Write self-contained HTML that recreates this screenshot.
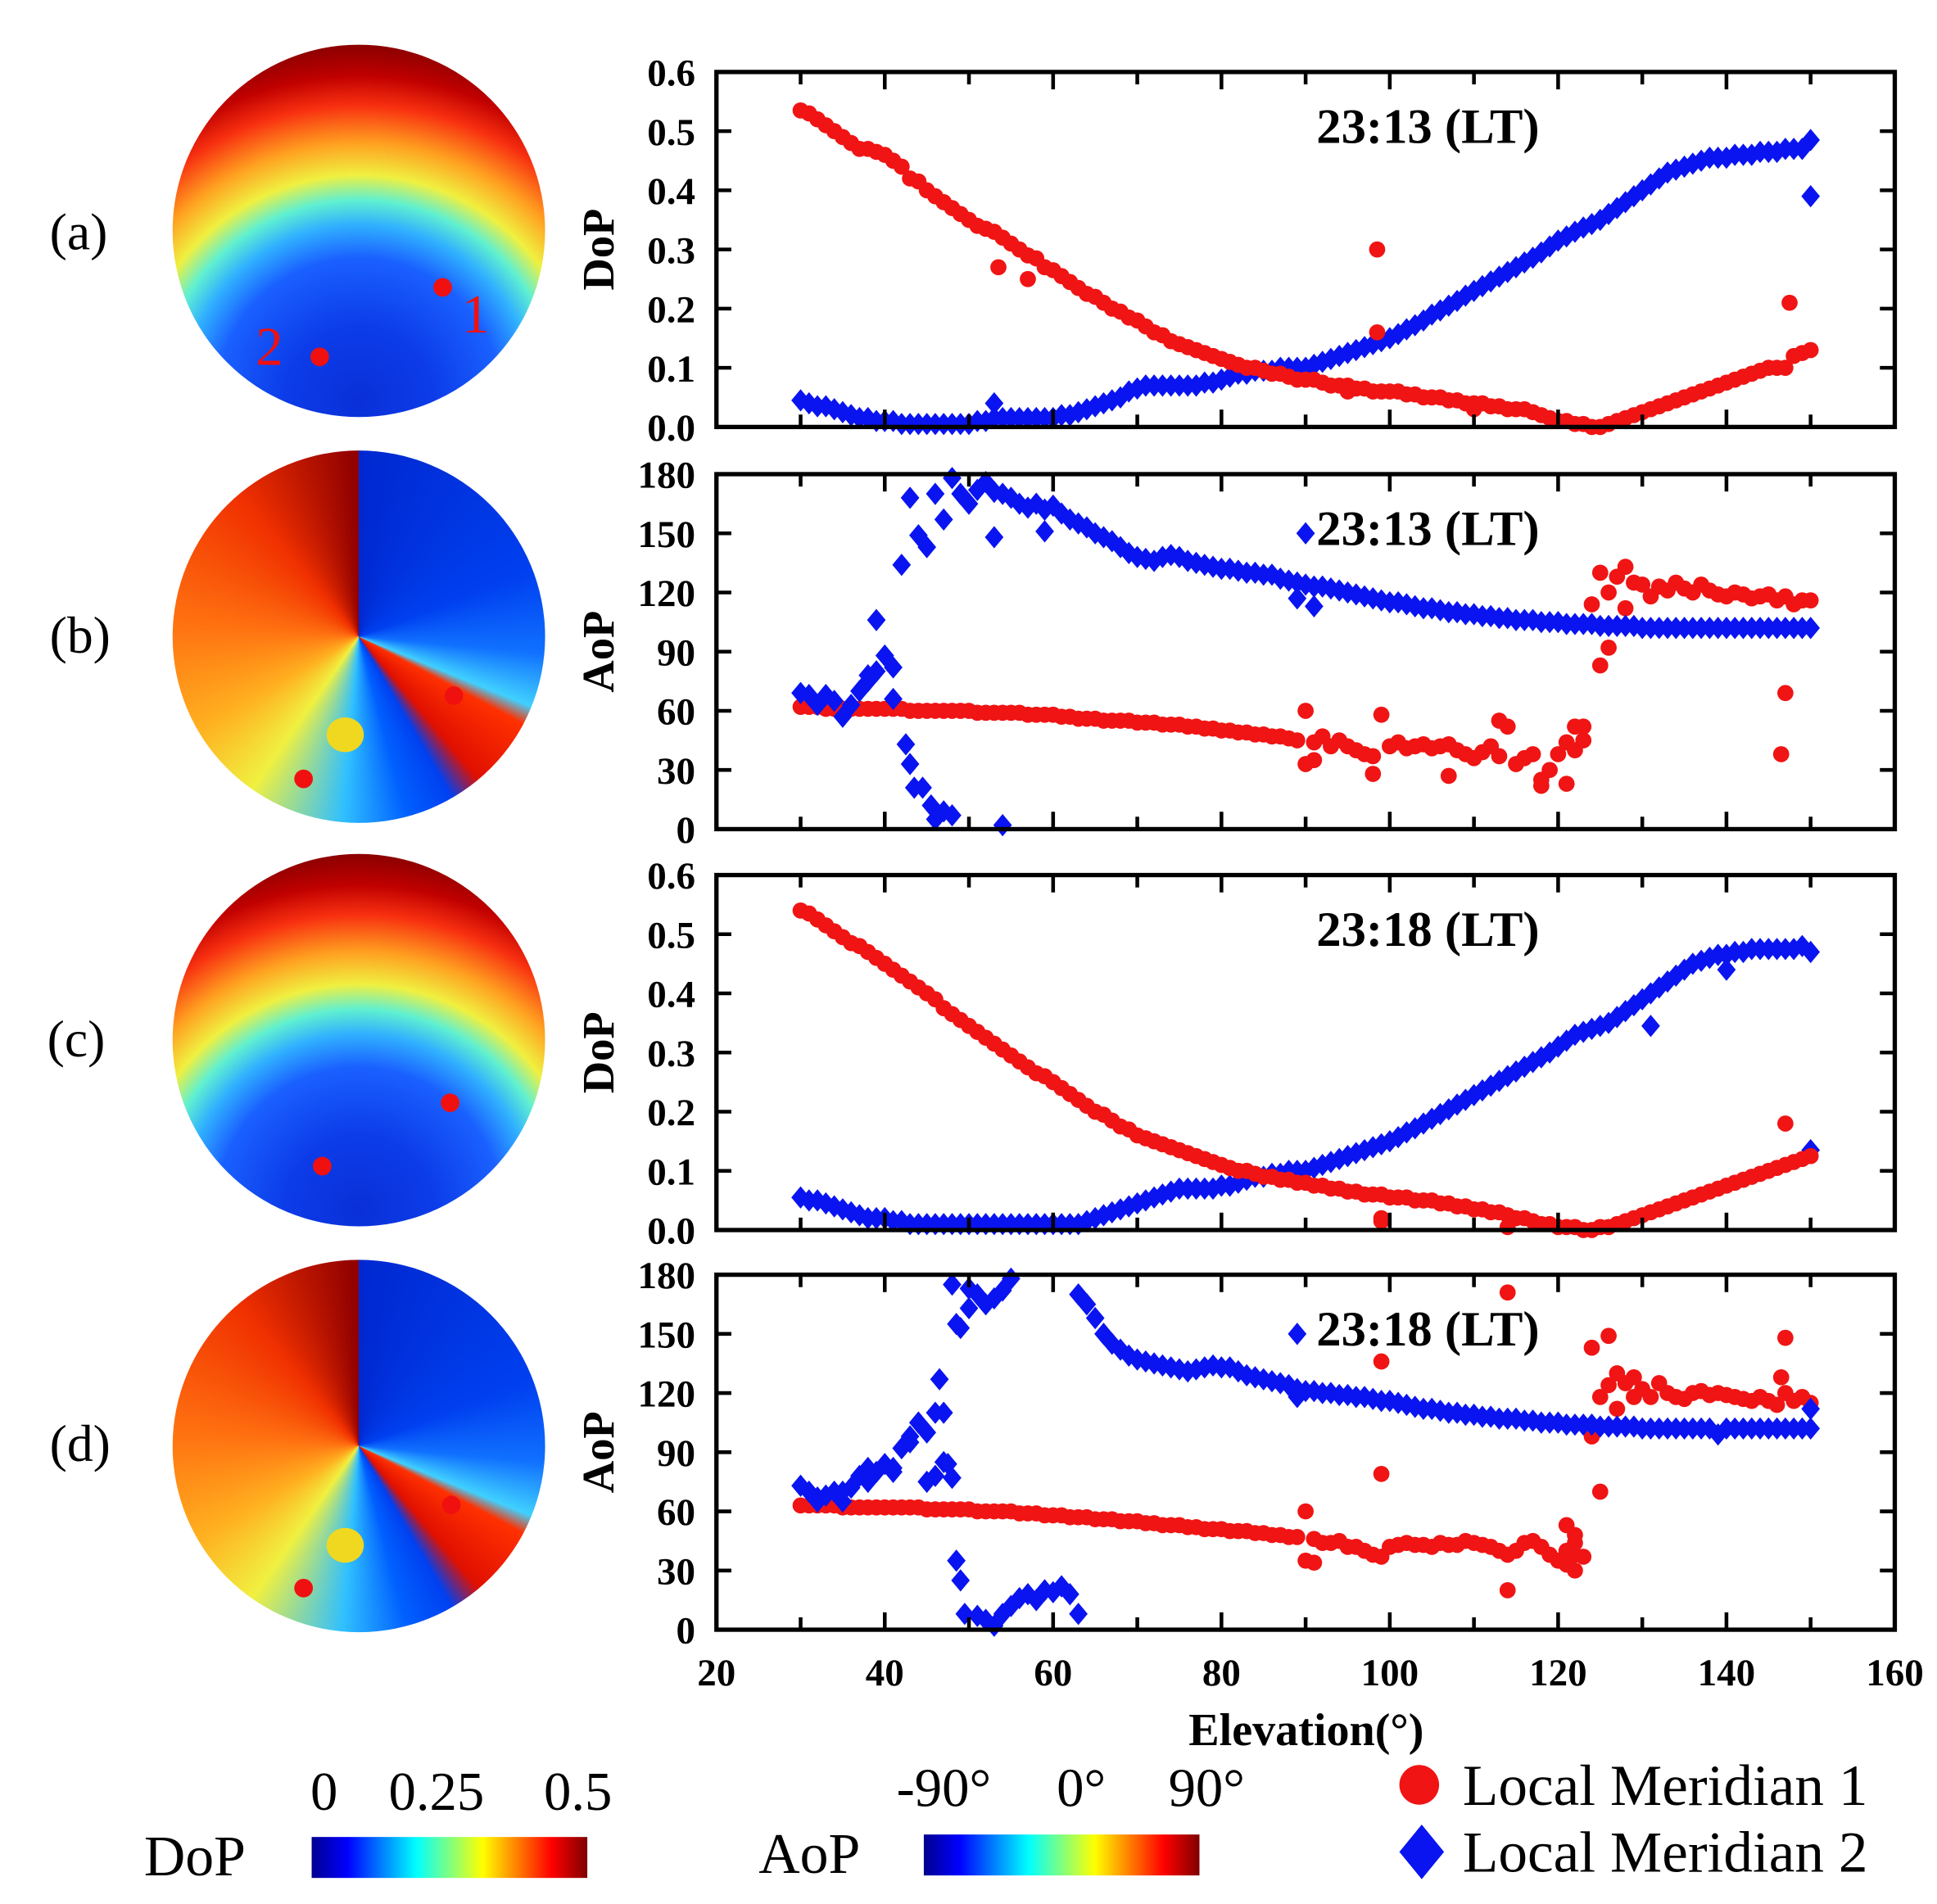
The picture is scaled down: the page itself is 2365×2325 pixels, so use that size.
<!DOCTYPE html>
<html><head><meta charset="utf-8">
<style>
html,body{margin:0;padding:0;background:#fff;}
#wrap{position:absolute;left:0;top:0;width:1560px;height:1534px;transform:scale(1.51603,1.51565);transform-origin:0 0;overflow:hidden;font-family:"Liberation Serif",serif;}
.sky{position:absolute;width:300px;height:300px;border-radius:50%;}
.dop{background:radial-gradient(circle at 150px 287px,#0a30d8 0px,#0c3ce8 60px,#1a60ff 115px,#30b0ff 142px,#60f0d0 162px,#f0f040 182px,#ffa020 208px,#f83010 238px,#c00000 262px,#800000 292px);}
.aop{background:conic-gradient(from 0deg,#0028d0 0deg,#0040f0 70deg,#1070ff 95deg,#40d0ff 112deg,#ff3000 118deg,#e01000 140deg,#0040f0 150deg,#0060ff 165deg,#30c0ff 185deg,#f0f040 215deg,#ffb020 240deg,#ff7010 275deg,#f03000 320deg,#900000 359deg);}
.lbl{position:absolute;font-size:42px;}
.dot{position:absolute;width:15px;height:15px;border-radius:50%;background:#f01010;}
.blob{position:absolute;width:30px;height:28px;border-radius:50%;background:#f0d820;}
.bar{position:absolute;height:33px;width:222px;background:linear-gradient(to right,#00008f,#0000ff 13%,#00ffff 38%,#ffff00 62%,#ff0000 87%,#800000);}
.t{position:absolute;font-size:44px;line-height:1;}
</style></head>
<body>
<div id="wrap">
  <div class="sky dop" style="left:139px;top:36px"></div>
  <div class="sky aop" style="left:139px;top:363px"></div>
  <div class="sky dop" style="left:139px;top:688px"></div>
  <div class="sky aop" style="left:139px;top:1015px"></div>
  <div class="blob" style="left:263px;top:578px"></div>
  <div class="blob" style="left:263px;top:1231px"></div>
  <div class="dot" style="left:349px;top:224px"></div>
  <div class="dot" style="left:250px;top:280px"></div>
  <div class="dot" style="left:358px;top:553px"></div>
  <div class="dot" style="left:237px;top:620px"></div>
  <div class="dot" style="left:355px;top:881px"></div>
  <div class="dot" style="left:252px;top:932px"></div>
  <div class="dot" style="left:356px;top:1205px"></div>
  <div class="dot" style="left:237px;top:1272px"></div>
  <div class="t" style="left:372px;top:232px;color:#f01010">1</div>
  <div class="t" style="left:206px;top:258px;color:#f01010">2</div>
  <div class="lbl" style="left:40px;top:164px">(a)</div>
  <div class="lbl" style="left:40px;top:489px">(b)</div>
  <div class="lbl" style="left:38px;top:814px">(c)</div>
  <div class="lbl" style="left:40px;top:1140px">(d)</div>

  <div class="t" style="left:116px;top:1473px;font-size:46px">DoP</div>
  <div class="bar" style="left:251px;top:1480px"></div>
  <div class="t" style="left:250px;top:1422px">0</div>
  <div class="t" style="left:313px;top:1422px">0.25</div>
  <div class="t" style="left:438px;top:1422px">0.5</div>
  <div class="t" style="left:611px;top:1471px;font-size:46px">AoP</div>
  <div class="bar" style="left:744px;top:1478px"></div>
  <div class="t" style="left:722px;top:1419px">-90°</div>
  <div class="t" style="left:851px;top:1419px">0°</div>
  <div class="t" style="left:941px;top:1419px">90°</div>

  <svg id="chart" width="1560" height="1534" viewBox="0 0 1560 1534" style="position:absolute;left:0;top:0"></svg>
</div>
<script>
const elev=[30,31,32,33,34,35,36,37,38,39,40,41,42,43,44,45,46,47,48,49,50,51,52,53,54,55,56,57,58,59,60,61,62,63,64,65,66,67,68,69,70,71,72,73,74,75,76,77,78,79,80,81,82,83,84,85,86,87,88,89,90,91,92,93,94,95,96,97,98,99,100,101,102,103,104,105,106,107,108,109,110,111,112,113,114,115,116,117,118,119,120,121,122,123,124,125,126,127,128,129,130,131,132,133,134,135,136,137,138,139,140,141,142,143,144,145,146,147,148,149,150];
const xTicks=[20,40,60,80,100,120,140,160];
const dopTicks=["0.0","0.1","0.2","0.3","0.4","0.5","0.6"];
const aopTicks=[0,30,60,90,120,150,180];
const titles=["23:13 (LT)","23:13 (LT)","23:18 (LT)","23:18 (LT)"];

const aDopRed=[.535,.53,.52,.51,.50,.49,.48,.47,.47,.465,.46,.45,.44,.42,.415,.40,.39,.38,.37,.36,.35,.34,.335,.33,.32,.31,.30,.29,.285,.27,.265,.255,.245,.235,.225,.22,.21,.20,.195,.185,.18,.17,.16,.155,.145,.14,.135,.13,.125,.12,.115,.11,.105,.10,.10,.095,.09,.09,.085,.08,.08,.08,.075,.07,.07,.07,.065,.065,.06,.06,.06,.06,.055,.055,.05,.05,.05,.045,.045,.04,.04,.04,.035,.035,.03,.03,.03,.025,.02,.015,.01,.01,.005,.005,0,0,.005,.01,.015,.02,.025,.03,.035,.04,.045,.05,.055,.06,.065,.07,.075,.08,.085,.09,.095,.1,.1,.1,.12,.125,.13];
const aDopBlue=[.045,.04,.035,.035,.03,.025,.02,.015,.015,.01,.01,.01,.005,.005,.005,.005,.005,.005,.005,.005,.005,.01,.01,.015,.015,.015,.015,.015,.015,.015,.015,.02,.02,.025,.03,.035,.04,.045,.05,.06,.065,.07,.07,.07,.07,.07,.07,.07,.075,.075,.08,.085,.09,.09,.095,.095,.095,.1,.1,.1,.1,.105,.11,.115,.12,.125,.13,.135,.14,.145,.15,.157,.165,.172,.18,.19,.197,.205,.213,.222,.23,.238,.246,.254,.262,.27,.278,.286,.295,.305,.315,.322,.33,.337,.343,.35,.36,.37,.38,.39,.40,.41,.42,.43,.435,.44,.445,.45,.455,.455,.455,.46,.46,.46,.465,.465,.465,.47,.47,.47,.485];
const aRedExtra=[[98.5,.30],[98.5,.16],[147.5,.21],[53.5,.27],[57,.25],[95,.06],[110,.03]];
const aBlueExtra=[[150,.39],[53,.04]];

const bAopRed=[62,62,62,61,61,61,61,61,61,61,61,61,61,60,60,60,60,60,60,60,60,59,59,59,59,59,59,58,58,58,58,57,57,56,56,56,55,55,55,55,54,54,54,53,53,53,52,52,51,51,50,50,49,49,48,48,47,47,46,45,33,44,47,42,45,42,40,38,37,58,42,44,41,42,43,41,42,43,40,38,36,39,42,37,52,33,36,38,25,30,38,44,52,52,114,130,120,128,133,125,124,118,123,121,125,122,120,124,121,119,118,120,119,117,118,119,116,118,114,116,116];
const bAopBlue=[69,68,63,68,65,57,63,70,78,80,88,82,134,168,149,143,170,157,178,170,165,172,176,171,170,168,165,163,165,162,164,160,157,155,153,150,148,146,143,140,138,137,136,138,139,138,136,135,134,133,132,132,131,130,130,129,129,127,126,125,124,123,123,122,121,120,119,118,117,116,115,115,114,113,112,112,111,110,110,109,109,108,108,107,107,106,106,106,105,105,105,104,104,104,104,103,103,103,103,103,102,102,102,102,102,102,102,102,102,102,102,102,102,102,102,102,102,102,102,102,102];
const bRedExtra=[[147,69],[146.5,38],[91,35],[98,28],[107,27],[118,22],[121,23],[123,45],[125,83],[126,92],[128,112],[90,60],[113,55],[122,40]];
const bBlueExtra=[[42.5,43],[43,33],[43.5,21],[44.5,21],[45.5,12],[46,5],[47,9],[48,7],[54,2],[41,66],[90,150],[89,117],[91,113],[53,148],[59,151],[38,75],[39,106]];

const cDopRed=[.54,.535,.525,.515,.505,.495,.485,.48,.47,.46,.45,.44,.43,.42,.41,.40,.39,.375,.365,.355,.345,.335,.325,.315,.305,.295,.285,.275,.265,.26,.25,.24,.23,.22,.21,.20,.195,.185,.175,.17,.16,.155,.15,.145,.14,.135,.13,.125,.12,.115,.11,.105,.10,.10,.095,.09,.09,.085,.085,.08,.08,.075,.075,.07,.07,.065,.065,.06,.06,.06,.055,.055,.055,.05,.05,.05,.045,.045,.04,.04,.035,.035,.03,.03,.025,.02,.02,.015,.01,.01,.005,.005,.005,0,0,.005,.005,.01,.015,.02,.025,.03,.035,.04,.045,.05,.055,.06,.065,.07,.075,.08,.085,.09,.095,.10,.105,.11,.115,.12,.125];
const cDopBlue=[.055,.05,.05,.045,.04,.035,.03,.025,.02,.02,.02,.015,.015,.01,.01,.01,.01,.01,.01,.01,.01,.01,.01,.01,.01,.01,.01,.01,.01,.01,.01,.01,.01,.01,.015,.02,.025,.03,.035,.04,.045,.05,.055,.06,.065,.07,.07,.07,.07,.07,.075,.075,.08,.085,.09,.09,.095,.095,.10,.10,.10,.105,.11,.115,.12,.125,.13,.135,.14,.145,.15,.157,.165,.172,.18,.188,.196,.204,.212,.22,.228,.236,.244,.252,.26,.268,.276,.284,.292,.30,.31,.32,.33,.335,.34,.345,.35,.36,.37,.38,.39,.40,.41,.42,.43,.44,.45,.455,.46,.465,.465,.47,.47,.475,.475,.475,.475,.475,.475,.48,.47];
const cRedExtra=[[99,.02],[99,.015],[114,.005],[147,.18]];
const cBlueExtra=[[150,.135],[140,.44],[131,.345]];

const dAopRed=[63,63,63,63,63,62,62,62,62,62,62,62,62,62,62,61,61,61,61,61,61,60,60,60,60,60,59,59,59,58,58,58,57,57,57,56,56,56,55,55,55,54,54,53,53,53,52,52,51,51,51,50,50,50,49,49,48,48,47,47,60,46,44,44,45,42,42,40,38,37,42,43,44,43,43,42,44,43,43,45,44,43,42,40,38,40,44,45,42,38,35,40,44,37,98,118,124,130,125,128,122,118,125,120,118,117,120,121,119,120,119,118,117,116,118,116,114,120,116,118,115];
const dAopBlue=[73,70,65,68,70,65,72,78,82,80,84,82,92,95,105,100,110,85,175,153,173,170,165,168,172,178,null,null,null,null,null,null,null,170,165,158,150,145,142,139,137,136,135,134,133,132,131,132,133,134,133,133,131,129,128,127,126,125,124,122,121,121,120,120,119,119,118,118,117,116,116,115,114,113,112,112,111,110,110,109,109,108,108,107,107,107,106,106,105,105,105,104,104,104,104,103,103,103,103,103,102,102,102,102,102,102,102,102,102,99,102,102,102,102,102,102,102,102,102,102,102];
const dRedExtra=[[90,35],[91,34],[99,136],[99,79],[114,171],[114,20],[121,33],[122,30],[121,53],[122,48],[124,143],[125,70],[126,149],[147,148],[146.5,128],[127,112],[129,118],[122,38]];
const dBlueExtra=[[45,75],[46,78],[46.5,127],[47,110],[47.5,84],[48,77],[48.5,35],[49,25],[49.5,8],[51,7],[52,5],[53,2],[54,8],[55,12],[56,16],[57,18],[58,15],[59,20],[60,19],[61,22],[62,18],[63,8],[89,150],[89,118],[48.5,155],[50,163],[32,67],[35,70],[38,75],[41,80],[43,98],[44,105],[150,112]];

const NS='http://www.w3.org/2000/svg';
const svg=document.getElementById('chart');
const X0=577,X1=1526,PH=286;
const tops=[58,382,705,1027];
function xS(v){return X0+(v-20)/140*(X1-X0);}
function mk(tag,attrs,parent){const e=document.createElementNS(NS,tag);for(const k in attrs)e.setAttribute(k,attrs[k]);(parent||svg).appendChild(e);return e;}

function panel(i,isDop,red,blue,redEx,blueEx){
  const top=tops[i],bot=top+PH;
  const ymax=isDop?0.6:180;
  const yS=v=>bot-(v/ymax)*PH;
  const g=mk('g',{});
  
  
  const drawBlue=(x,y)=>{const cx=xS(x),cy=yS(y);const p=mk('polygon',{points:`${cx},${cy-9} ${cx+7.5},${cy} ${cx},${cy+9} ${cx-7.5},${cy}`,fill:'#0a14f0'},g);
    
    };
  const drawRed=(x,y)=>{const c=mk('circle',{cx:xS(x),cy:yS(y),r:6.5,fill:'#f01414'},g);
    
    };
  const order=isDop?['b','r']:['r','b'];
  order.forEach(o=>{
    if(o==='b'){elev.forEach((x,k)=>{if(blue[k]!==null&&blue[k]!==undefined)drawBlue(x,blue[k]);});blueEx.forEach(p=>drawBlue(p[0],p[1]));}
    else{elev.forEach((x,k)=>{if(red[k]!==null&&red[k]!==undefined)drawRed(x,red[k]);});redEx.forEach(p=>drawRed(p[0],p[1]));}
  });
  const fr=mk('rect',{x:X0,y:top,width:X1-X0,height:PH,fill:'none',stroke:'#000','stroke-width':3.5},g);
  
  
  for(let v=30;v<=150;v+=10){const L=(v%20===0)?14:10;
    mk('line',{x1:xS(v),x2:xS(v),y1:bot,y2:bot-L,stroke:'#000','stroke-width':3},g);
    mk('line',{x1:xS(v),x2:xS(v),y1:top,y2:top+L,stroke:'#000','stroke-width':3},g);}
  const labs=isDop?dopTicks:aopTicks;
  labs.forEach((lb,k)=>{const v=isDop?parseFloat(lb):lb;const y=yS(v);
    mk('line',{x1:X0,x2:X0+12,y1:y,y2:y,stroke:'#000','stroke-width':3},g);
    mk('line',{x1:X1,x2:X1-12,y1:y,y2:y,stroke:'#000','stroke-width':3},g);
    const t=mk('text',{x:560,y:y+11,'text-anchor':'end','font-size':31,'font-weight':'bold','font-family':'Liberation Serif, serif'},g);
    t.textContent=lb;
    
    });
  const yl=mk('text',{x:0,y:0,transform:`translate(494,${top+PH/2}) rotate(-90)`,'text-anchor':'middle','font-size':36,'font-weight':'bold','font-family':'Liberation Serif, serif'},g);
  yl.textContent=isDop?'DoP':'AoP';
  
  
  const tt=mk('text',{x:1150,y:top+57,'text-anchor':'middle','font-size':40,'font-weight':'bold','font-family':'Liberation Serif, serif'},g);
  tt.textContent=titles[i];
  
  
}
panel(0,true,aDopRed,aDopBlue,aRedExtra,aBlueExtra);
panel(1,false,bAopRed,bAopBlue,bRedExtra,bBlueExtra);
panel(2,true,cDopRed,cDopBlue,cRedExtra,cBlueExtra);
panel(3,false,dAopRed,dAopBlue,dRedExtra,dBlueExtra);

xTicks.forEach(v=>{const t=mk('text',{x:xS(v),y:1358,'text-anchor':'middle','font-size':31,'font-weight':'bold','font-family':'Liberation Serif, serif'});
  t.textContent=v;
  
  });
const xt=mk('text',{x:1052,y:1406,'text-anchor':'middle','font-size':37,'font-weight':'bold','font-family':'Liberation Serif, serif'});
xt.textContent='Elevation(°)';



const lg=mk('g',{});


const lc=mk('circle',{cx:1143,cy:1438,r:16,fill:'#f01414'},lg);


const lt1=mk('text',{x:1178,y:1454,'font-size':47,'font-family':'Liberation Serif, serif'},lg);
lt1.textContent='Local Meridian 1';


const ld=mk('polygon',{points:'1145,1470 1163,1492 1145,1514 1127,1492',fill:'#0a14f0'},lg);


const lt2=mk('text',{x:1178,y:1508,'font-size':47,'font-family':'Liberation Serif, serif'},lg);
lt2.textContent='Local Meridian 2';


</script>
</body></html>
